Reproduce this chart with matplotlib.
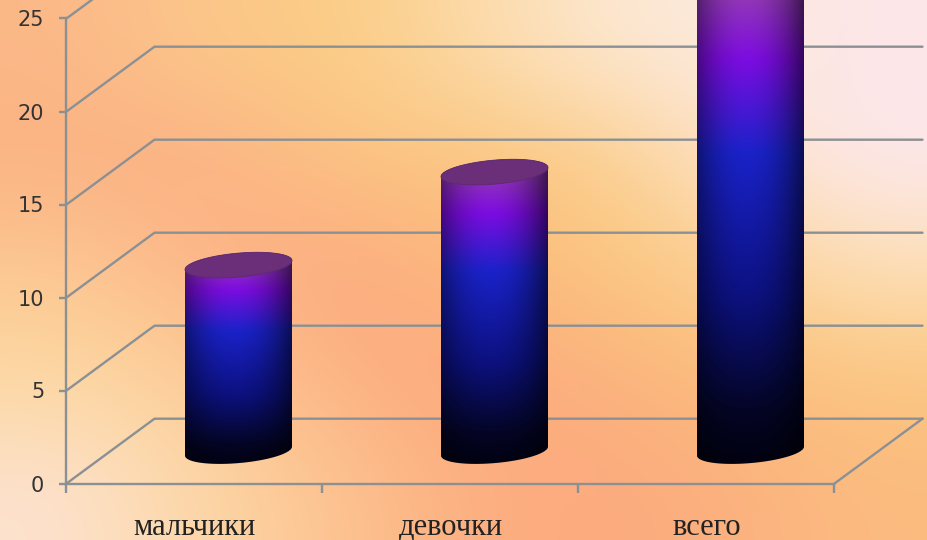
# -*- coding: utf-8 -*-
import numpy as np
import matplotlib
matplotlib.use("Agg")
import matplotlib.pyplot as plt
from matplotlib.colors import to_rgb, LinearSegmentedColormap
from matplotlib.patches import Polygon

categories = ["мальчики", "девочки", "всего"]
values = [10, 15, 25]
y_ticks = [0, 5, 10, 15, 20, 25]

# px per unit of the two axes, and the depth of the fake 3d box
PX_X = 256.0
PX_Y = 18.6
ZERO_PX = 483.5
DEPTH_X = 88 / PX_X
DEPTH_Y = 64.8 / PX_Y
GRID = "#8b9094"

BG_COLORS = [
    ["#fbb888", "#fbc88c", "#fbcc82", "#fcd9a5", "#fde8d0", "#fdeadf", "#fde6e8"],
    ["#fbb283", "#fcae83", "#fcc285", "#fbc67d", "#fbcb85", "#fde2c5", "#fde8ee"],
    ["#fcc993", "#fdb688", "#fda97f", "#fcb580", "#fbc67d", "#fcd090", "#fde0b5"],
    ["#fdd9a2", "#fccf98", "#fcb283", "#fda97e", "#fcb07e", "#fbbd7b", "#fbc67f"],
    ["#fde2d0", "#fdd8a6", "#fcc592", "#fcb081", "#fca97e", "#fcb07f", "#fcbb80"],
]

body_cmap = LinearSegmentedColormap.from_list("body", [
    (0.0, "#01010e"), (0.12, "#040526"), (0.35, "#0c1180"), (0.64, "#1a22c8"),
    (0.83, "#7c0ce0"), (1.0, "#9a48a8"),
])


def ellipse_pts(cx, cy, t):
    # tilted ellipse in data units, right side a bit higher than left
    a = 53.5 / PX_X
    b = 12 / PX_Y
    k = 4.5 / PX_Y
    return cx + a * np.cos(t), cy + b * np.sin(t) + k * np.cos(t)


def draw_cylinder(ax, cx, base, val):
    top = base + val
    a = 53.5 / PX_X
    x1, y1 = ellipse_pts(cx, base, np.linspace(np.pi, 2 * np.pi, 60))
    x2, y2 = ellipse_pts(cx, top, np.linspace(0, np.pi, 60))
    verts = np.column_stack([np.r_[x1, x2], np.r_[y1, y2]])
    outline = Polygon(verts, closed=True, transform=ax.transData, fc="none", ec="none")
    ax.add_patch(outline)

    grad = np.linspace(1, 0, 300)
    rgb = body_cmap(grad)[:, :3][:, None, :]
    u = np.linspace(-1, 1, 120)
    shade = 0.42 + 0.58 * np.clip(1 - ((u + 0.08) / 1.08) ** 2, 0, 1)
    img = rgb * shade[None, :, None]
    im = ax.imshow(img, extent=[cx - a, cx + a, base - 1, top + 0.7], aspect="auto",
                   interpolation="bilinear", zorder=3)
    im.set_clip_path(outline)

    xc, yc = ellipse_pts(cx, top, np.linspace(0, 2 * np.pi, 120))
    ax.add_patch(Polygon(np.column_stack([xc, yc]), closed=True, fc="#6a2f78", ec="#5c2a70",
                         lw=0.6, zorder=4))


fig = plt.figure(figsize=(9.28, 5.4), dpi=100)
ax = fig.add_axes([0, 0, 1, 1])

xmin, xmax = -194.5 / PX_X, (928 - 194.5) / PX_X
ymin, ymax = (ZERO_PX - 540) / PX_Y, ZERO_PX / PX_Y

bg = np.array([[to_rgb(c) for c in row] for row in BG_COLORS])
ax.imshow(bg, extent=[xmin, xmax, ymin, ymax], aspect="auto", interpolation="bicubic", zorder=0)

# back wall and floor
left = -0.5
right = len(categories) - 0.5
for v in y_ticks:
    ax.plot([left, left + DEPTH_X, right + DEPTH_X], [v, v + DEPTH_Y, v + DEPTH_Y],
            color=GRID, lw=1.7, zorder=1, solid_capstyle="round")
ax.plot([right, right + DEPTH_X], [0, DEPTH_Y], color=GRID, lw=1.7, zorder=1)

for i, v in enumerate(values):
    draw_cylinder(ax, i + DEPTH_X / 2, DEPTH_Y / 2, v)

ax.set_xlim(xmin, xmax)
ax.set_ylim(ymin, ymax)

for s in ["top", "right"]:
    ax.spines[s].set_visible(False)
ax.spines["left"].set_position(("data", left))
ax.spines["left"].set_bounds(0, 25)
ax.spines["bottom"].set_position(("data", 0))
ax.spines["bottom"].set_bounds(left, right)
for s in ["left", "bottom"]:
    ax.spines[s].set_color(GRID)
    ax.spines[s].set_linewidth(1.7)
    ax.spines[s].set_zorder(2)

ax.set_yticks(y_ticks)
ax.set_yticklabels([str(v) for v in y_ticks], fontsize=15, color="#333333", family="DejaVu Sans")
ax.tick_params(axis="y", length=5, width=1.7, color=GRID, pad=11)

ax.set_xticks(np.arange(len(categories) + 1) - 0.5)
ax.set_xticklabels([])
ax.tick_params(axis="x", which="major", length=6.5, width=1.7, color=GRID)
ax.set_xticks(np.arange(len(categories)), minor=True)
ax.set_xticklabels(categories, minor=True, fontsize=22, color="#222222", family="Liberation Serif")
ax.tick_params(axis="x", which="minor", length=0, pad=21)

fig.savefig("out.png", dpi=100)
